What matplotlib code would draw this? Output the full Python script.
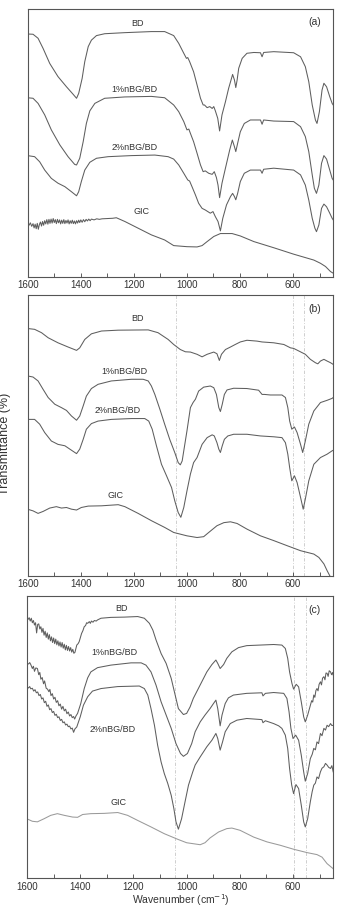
import numpy as np
import matplotlib
matplotlib.use("Agg")
import matplotlib.pyplot as plt

plt.rcParams['font.family'] = ['Liberation Sans', 'DejaVu Sans']

# ---------------- panel (a) ----------------
bd_a_wn = [1601, 1580, 1561, 1542, 1517, 1486, 1454, 1429, 1416, 1408, 1395, 1385, 1372, 1360, 1341, 1310,
           1234, 1134, 1084, 1050, 1031, 1012, 1002, 997, 990, 975, 962, 949, 939, 934, 924, 914, 905, 899,
           893, 884, 877, 868, 855, 843, 834, 828, 821, 816, 811, 805, 792, 774, 748, 723, 717, 711, 673,
           598, 572, 554, 541, 528, 516, 510, 501, 491, 484, 474, 462, 453, 449]
bd_a_t = [90.7, 90.6, 89.1, 85.3, 79.7, 74.8, 71.0, 68.2, 66.7, 68.5, 74.1, 80.4, 86.0, 88.4, 90.1, 90.8,
          91.2, 91.6, 91.6, 90.1, 87.2, 83.5, 81.6, 81.9, 80.4, 76.6, 71.7, 66.7, 64.2, 64.2, 63.2, 63.6, 62.9, 63.6,
          62.0, 59.2, 54.5, 60.5, 65.4, 70.4, 73.5, 75.6, 73.5, 70.7, 73.5, 77.9, 81.6, 83.5, 83.8, 83.7, 82.2, 83.8, 84.1,
          83.7, 82.2, 78.5, 72.9, 64.2, 58.6, 57.3, 61.7, 69.8, 72.3, 71.0, 67.3, 64.8, 64.2]

nbg1_a_wn = [1601, 1580, 1561, 1536, 1511, 1479, 1448, 1423, 1416, 1404, 1391, 1379, 1366, 1347, 1310, 1234,
             1134, 1084, 1050, 1031, 1012, 1000, 993, 987, 975, 962, 949, 939, 931, 918, 905, 897, 889, 883,
             877, 868, 855, 839, 829, 821, 816, 809, 799, 784, 761, 723, 717, 711, 673, 598, 572, 554, 541,
             528, 520, 512, 503, 493, 484, 474, 462, 453, 449]
nbg1_a_t = [66.9, 66.7, 64.8, 60.5, 54.9, 49.3, 44.9, 42.0, 41.8, 44.3, 50.5, 57.3, 62.0, 64.8, 66.7, 67.2,
            67.4, 66.9, 64.2, 61.7, 58.0, 54.9, 55.2, 53.6, 50.5, 46.2, 41.8, 39.3, 39.6, 38.7, 38.3, 39.3, 37.1, 34.3,
            29.6, 35.0, 40.6, 47.4, 51.1, 48.6, 46.8, 49.9, 54.2, 57.3, 58.6, 58.6, 57.0, 58.6, 58.2, 58.0, 56.1, 52.4, 46.8,
            38.1, 33.1, 31.2, 34.3, 42.4, 45.3, 44.0, 39.9, 36.8, 36.2]

nbg2_a_wn = [1601, 1574, 1555, 1536, 1511, 1486, 1460, 1435, 1416, 1408, 1398, 1385, 1366, 1341, 1297, 1209,
             1121, 1071, 1050, 1031, 1012, 997, 990, 981, 968, 956, 943, 931, 912, 902, 893, 883, 874, 865,
             851, 836, 828, 821, 816, 809, 799, 784, 761, 723, 717, 711, 673, 598, 572, 554, 541, 528, 518,
             512, 503, 493, 484, 474, 462, 453, 449]
nbg2_a_t = [45.3, 44.9, 43.0, 39.9, 36.8, 35.0, 33.7, 31.8, 30.3, 31.8, 35.6, 39.9, 42.8, 44.3, 44.9, 45.3,
            45.5, 44.9, 44.0, 41.8, 38.7, 36.2, 35.8, 33.7, 30.6, 27.5, 25.6, 25.0, 23.8, 24.4, 22.5, 20.7, 17.2, 21.9,
            26.9, 30.0, 31.2, 30.0, 28.8, 31.2, 35.6, 38.7, 39.9, 39.9, 38.7, 40.2, 40.6, 39.9, 38.1, 34.3, 28.7, 21.9, 18.2,
            16.9, 19.4, 25.6, 27.2, 26.2, 23.8, 21.9, 21.3]

gic_a_wn = [1600, 1595, 1590, 1585, 1580, 1576, 1572, 1568, 1564, 1560, 1556, 1552, 1548, 1544, 1540, 1536,
            1532, 1528, 1524, 1520, 1516, 1512, 1508, 1504, 1500, 1496, 1492, 1488, 1484, 1480, 1476, 1472,
            1468, 1464, 1460, 1456, 1452, 1448, 1444, 1440, 1436, 1432, 1428, 1424, 1420, 1416, 1412, 1408,
            1404, 1400, 1395, 1390, 1385, 1380, 1375, 1370, 1365, 1360, 1350, 1340, 1330, 1320, 1300, 1280,
            1266, 1234, 1184, 1134, 1084, 1050, 1000, 962, 943, 924, 899, 874, 830, 799, 748, 673, 598, 522,
            497, 478, 459, 449]
gic_a_t = [19.7, 19.3, 20.2, 18.9, 19.9, 18.3, 19.7, 18.0, 20.0, 17.8, 19.6, 20.5, 19.0, 20.7, 19.3, 21.0,
           19.8, 21.4, 19.7, 21.5, 20.0, 21.6, 20.1, 21.8, 20.3, 21.4, 19.9, 21.5, 20.2, 21.3, 19.8, 21.2,
           20.0, 21.4, 19.9, 21.1, 20.1, 21.3, 19.8, 21.0, 20.0, 21.2, 19.9, 20.9, 19.8, 21.0, 20.1, 21.2,
           20.3, 21.3, 20.4, 21.4, 20.6, 21.5, 20.9, 21.6, 21.0, 21.6, 21.3, 21.7, 21.5, 21.7, 21.8, 21.9,
           22.1, 20.7, 18.2, 15.7, 13.8, 11.7, 11.3, 11.2, 11.7, 13.2, 15.1, 16.2, 16.2, 15.3, 13.2, 10.9, 8.5, 6.3,
           5.1, 3.9, 2.0, 1.4]

# ---------------- panel (b) ----------------
bd_b_wn = [1601, 1574, 1548, 1523, 1486, 1448, 1416, 1404, 1385, 1360, 1322, 1259, 1146, 1109, 1071, 1050,
           1025, 1006, 987, 962, 943, 924, 899, 887, 878, 870, 855, 836, 818, 799, 774, 736, 717, 673, 635,
           610, 598, 579, 554, 535, 516, 507, 497, 484, 472, 459, 449]
bd_b_t = [88.1, 87.8, 86.6, 84.8, 83.0, 81.5, 80.3, 81.2, 84.2, 86.2, 87.2, 87.5, 87.6, 86.6, 84.2, 82.4,
          80.6, 79.8, 79.7, 78.9, 78.0, 78.9, 79.7, 79.1, 76.7, 78.9, 80.6, 81.5, 82.4, 83.3, 83.9, 83.6, 83.3, 83.0, 82.4,
          81.2, 81.0, 80.1, 78.9, 77.1, 75.9, 75.5, 76.5, 77.1, 76.5, 75.9, 75.3]

nbg1_b_wn = [1601, 1580, 1561, 1542, 1523, 1498, 1473, 1454, 1435, 1416, 1404, 1391, 1379, 1360, 1335, 1285,
             1209, 1165, 1146, 1134, 1121, 1102, 1084, 1065, 1046, 1033, 1025, 1018, 1012, 1000, 987, 977,
             968, 956, 937, 912, 899, 889, 880, 874, 867, 859, 849, 824, 774, 730, 717, 708, 686, 642, 629,
             620, 613, 605, 595, 585, 572, 564, 554, 541, 522, 497, 472, 453, 449]
nbg1_b_t = [71.2, 70.8, 69.4, 66.4, 63.5, 61.1, 59.9, 58.9, 56.9, 55.4, 56.9, 60.5, 64.0, 66.7, 68.2, 69.4,
            70.0, 70.0, 69.4, 67.6, 64.6, 59.3, 54.0, 48.6, 43.9, 40.3, 39.5, 40.9, 44.5, 51.6, 59.9, 61.7,
            62.9, 65.8, 67.2, 67.6, 67.0, 64.6, 59.9, 58.5, 61.1, 64.6, 66.2, 66.8, 66.7, 66.1, 64.6, 64.6, 64.4, 64.4, 63.5,
            59.9, 55.1, 52.2, 53.0, 51.0, 46.8, 43.9, 48.0, 54.0, 58.7, 61.7, 62.5, 63.2, 63.5]

nbg2_b_wn = [1601, 1574, 1555, 1536, 1511, 1486, 1460, 1435, 1416, 1404, 1391, 1379, 1360, 1335, 1285, 1209,
             1159, 1144, 1131, 1115, 1096, 1077, 1058, 1046, 1033, 1023, 1012, 1000, 987, 975, 962, 943,
             924, 905, 897, 887, 880, 874, 867, 859, 846, 824, 774, 723, 673, 642, 629, 620, 613, 605, 595,
             585, 572, 562, 554, 541, 522, 497, 472, 453, 449]
nbg2_b_t = [55.7, 55.7, 54.0, 51.0, 48.0, 46.8, 46.3, 44.7, 43.5, 45.1, 48.6, 52.2, 54.2, 55.1, 55.7, 56.0,
            56.0, 55.1, 52.2, 46.3, 39.7, 35.6, 31.4, 26.7, 22.5, 20.8, 24.3, 30.2, 36.2, 40.3, 42.1, 46.8,
            49.2, 50.2, 49.8, 47.4, 45.1, 43.9, 46.3, 48.6, 49.8, 50.4, 50.4, 49.8, 49.5, 49.2, 47.4, 43.3, 38.5, 33.8, 35.6,
            33.2, 27.9, 23.7, 27.3, 33.8, 39.7, 42.1, 43.3, 44.5, 44.7]

gic_b_wn = [1601, 1580, 1561, 1542, 1517, 1492, 1473, 1454, 1435, 1416, 1398, 1372, 1322, 1259, 1234, 1184,
            1134, 1084, 1050, 1000, 962, 937, 918, 887, 861, 836, 811, 774, 723, 673, 623, 572, 522, 503,
            484, 472, 462, 449]
gic_b_t = [23.7, 23.1, 22.2, 22.9, 24.1, 24.6, 24.1, 24.3, 23.7, 23.4, 24.3, 24.8, 24.9, 25.3, 24.6, 22.2,
           19.6, 17.2, 15.4, 14.2, 13.6, 13.9, 15.4, 17.8, 18.9, 19.2, 18.6, 16.6, 14.2, 12.5, 10.7, 8.9, 7.7, 6.5,
           4.2, 1.8, 0.0, -2.4]

# ---------------- panel (c) ----------------
bd_c_wn = [1601, 1596, 1592, 1588, 1584, 1580, 1576, 1572, 1568, 1564, 1560, 1556, 1552, 1548, 1544, 1540,
           1536, 1532, 1528, 1524, 1520, 1516, 1512, 1508, 1504, 1500, 1496, 1492, 1488, 1484, 1480, 1476,
           1472, 1468, 1464, 1460, 1456, 1452, 1448, 1444, 1440, 1436, 1432, 1428, 1424, 1420, 1416, 1413,
           1408, 1404, 1400, 1395, 1390, 1385, 1380, 1376, 1372, 1366, 1362, 1358, 1352, 1347, 1340, 1335,
           1322, 1285, 1234, 1184, 1159, 1140, 1127, 1115, 1096, 1077, 1058, 1040, 1031, 1012, 1000, 987,
           975, 962, 943, 924, 905, 890, 883, 874, 861, 849, 830, 805, 774, 723, 673, 642, 629, 620, 613,
           604, 598, 588, 579, 569, 560, 554, 545, 535, 530, 526, 522, 518, 514, 510, 506, 502, 497, 493,
           489, 484, 480, 476, 472, 468, 464, 459, 455, 451, 449]
bd_c_t = [92.0, 91.6, 92.2, 91.0, 92.0, 90.4, 91.2, 89.6, 90.4, 86.8, 89.8, 90.0, 88.2, 89.0, 87.0, 88.4,
          86.0, 87.4, 85.2, 86.8, 84.6, 86.2, 84.0, 85.4, 83.4, 85.0, 83.0, 84.6, 82.6, 84.0, 82.2, 83.6,
          81.8, 83.4, 81.4, 82.8, 80.8, 82.4, 80.6, 82.0, 80.4, 81.6, 80.0, 81.0, 79.6, 79.9, 81.4, 82.5,
          83.0, 83.7, 85.0, 86.6, 87.6, 89.0, 89.4, 90.4, 90.2, 90.8, 90.2, 91.0, 90.6, 91.2, 91.0, 91.4,
          92.0, 92.3, 92.4, 92.6, 92.0, 90.2, 87.8, 84.3, 79.5, 76.0, 70.7, 63.6, 60.0, 57.9, 58.3, 60.6,
          63.6, 66.0, 69.5, 73.0, 75.6, 77.2, 76.0, 74.2, 75.6, 77.8, 80.1, 81.6, 82.3, 82.5, 82.7, 82.5, 81.3, 77.8, 73.0,
          68.9, 66.9, 68.6, 67.7, 62.4, 57.1, 55.3, 57.7, 61.2, 62.8, 62.3, 64.8, 64.0, 66.4, 67.1, 66.3, 68.6, 69.5, 68.4,
          70.8, 71.3, 70.2, 72.6, 72.5, 71.4, 73.4, 73.0, 72.0, 72.8, 71.9]

nbg1_c_wn = [1601, 1594, 1590, 1586, 1580, 1576, 1572, 1567, 1561, 1556, 1552, 1548, 1543, 1538, 1534, 1528,
             1523, 1518, 1514, 1510, 1505, 1500, 1495, 1490, 1485, 1480, 1475, 1470, 1465, 1460, 1455, 1450,
             1445, 1440, 1435, 1430, 1425, 1421, 1416, 1410, 1398, 1385, 1372, 1360, 1335, 1285, 1209, 1171,
             1153, 1134, 1115, 1096, 1077, 1058, 1040, 1023, 1012, 997, 981, 968, 949, 931, 912, 899, 890,
             883, 874, 867, 855, 843, 824, 774, 717, 713, 704, 673, 635, 623, 615, 608, 600, 590, 579, 569,
             560, 554, 545, 535, 528, 522, 516, 510, 504, 497, 491, 484, 478, 472, 466, 459, 454, 449]
nbg1_c_t = [76.0, 75.8, 76.3, 75.6, 74.2, 75.0, 73.2, 74.4, 74.2, 72.0, 72.8, 70.4, 71.0, 68.8, 69.8, 67.2,
            66.9, 66.0, 66.8, 64.6, 65.3, 63.4, 64.0, 62.2, 62.8, 61.0, 61.6, 59.8, 60.8, 59.2, 59.8, 58.2,
            58.8, 57.4, 57.9, 56.8, 57.2, 56.3, 57.4, 58.3, 61.8, 67.1, 70.9, 73.0, 74.5, 75.4, 76.2, 76.2,
            75.4, 73.0, 68.3, 62.4, 57.7, 53.0, 47.6, 44.1, 43.1, 44.1, 47.6, 51.8, 55.3, 57.7, 60.0, 61.8, 63.0,
            60.0, 53.9, 57.7, 61.8, 63.8, 64.8, 65.4, 65.6, 64.5, 65.4, 65.7, 65.4, 63.6, 58.9, 53.0, 49.4, 50.6, 48.8, 43.5,
            37.6, 34.3, 37.0, 42.3, 43.8, 45.9, 45.4, 48.2, 47.6, 51.2, 50.4, 53.0, 52.4, 54.1, 53.6, 54.7, 54.0, 54.1]

nbg2_c_wn = [1601, 1595, 1590, 1586, 1580, 1575, 1570, 1565, 1560, 1555, 1550, 1545, 1540, 1535, 1530, 1525,
             1520, 1515, 1510, 1505, 1500, 1495, 1490, 1485, 1480, 1475, 1470, 1465, 1460, 1455, 1450, 1445,
             1440, 1435, 1430, 1425, 1420, 1413, 1400, 1388, 1372, 1354, 1322, 1259, 1178, 1159, 1146, 1134,
             1121, 1109, 1096, 1084, 1071, 1058, 1048, 1040, 1031, 1019, 1006, 993, 977, 968, 949, 924, 905,
             890, 883, 874, 865, 855, 836, 811, 774, 717, 713, 704, 673, 654, 642, 629, 620, 613, 605, 598,
             589, 579, 569, 560, 554, 545, 535, 528, 522, 516, 510, 504, 497, 491, 484, 478, 472, 466, 459,
             454, 449]
nbg2_c_t = [67.7, 67.3, 67.8, 67.0, 67.2, 66.2, 66.7, 65.6, 65.9, 64.6, 65.0, 63.4, 63.8, 62.1, 62.6, 60.8,
            61.3, 59.6, 60.0, 58.6, 59.0, 57.6, 58.0, 56.8, 57.1, 55.8, 56.2, 55.0, 55.3, 54.2, 54.5, 53.6,
            53.8, 52.8, 53.1, 51.6, 52.8, 53.5, 57.1, 61.2, 64.2, 66.2, 67.1, 67.8, 68.0, 67.1, 64.8, 60.0,
            54.1, 47.0, 41.1, 37.0, 33.5, 29.3, 24.6, 19.9, 17.3, 21.0, 27.0, 32.9, 37.6, 40.0, 42.9, 46.5, 48.8,
            51.2, 49.4, 45.3, 48.2, 51.8, 54.7, 55.9, 56.5, 56.1, 55.0, 55.7, 54.7, 53.9, 53.0, 50.6, 45.9, 38.8, 32.9, 29.9,
            33.1, 31.7, 25.8, 19.9, 18.1, 21.0, 27.0, 30.6, 32.9, 33.6, 35.8, 35.2, 37.6, 38.9, 39.4, 40.6, 40.0, 39.2, 38.8,
            39.8, 37.6]

gic_c_wn = [1601, 1580, 1561, 1536, 1511, 1486, 1460, 1429, 1410, 1391, 1360, 1310, 1259, 1222, 1184, 1134,
            1084, 1033, 1000, 949, 931, 912, 880, 849, 830, 799, 748, 698, 648, 598, 547, 510, 491, 472, 449]
gic_c_t = [21.0, 20.1, 19.9, 21.0, 22.2, 22.8, 22.2, 21.6, 21.5, 22.5, 22.8, 22.9, 23.2, 22.2, 20.4, 18.1,
           15.7, 13.7, 12.5, 11.8, 12.5, 14.2, 16.3, 17.5, 17.7, 16.9, 14.5, 12.8, 11.6, 10.2, 9.0, 8.3, 7.4, 5.1, 3.3]

names = ['BD', '1%nBG/BD', '2%nBG/BD', 'GIC']
panel_tags = ['(a)', '(b)', '(c)']

# label anchor points (wavenumber, transmittance) for the sample names
label_a = [(1185, 94.8), (1197, 70.1), (1197, 48.5), (1170, 24.6)]
label_b = [(1185, 91.5), (1234, 72.6), (1260, 58.7), (1268, 28.5)]
label_c = [(1245, 95.4), (1272, 79.8), (1278, 52.5), (1257, 26.6)]

# dashed reference bands in (b) and (c)
marks_b = [1042, 602, 560]
marks_c = [1042, 598, 553]

panels = [
    ([(bd_a_wn, bd_a_t), (nbg1_a_wn, nbg1_a_t), (nbg2_a_wn, nbg2_a_t), (gic_a_wn, gic_a_t)], label_a, []),
    ([(bd_b_wn, bd_b_t), (nbg1_b_wn, nbg1_b_t), (nbg2_b_wn, nbg2_b_t), (gic_b_wn, gic_b_t)], label_b, marks_b),
    ([(bd_c_wn, bd_c_t), (nbg1_c_wn, nbg1_c_t), (nbg2_c_wn, nbg2_c_t), (gic_c_wn, gic_c_t)], label_c, marks_c),
]

fig = plt.figure(figsize=(3.38, 9.08), dpi=100)
rects = [[0.082, 0.695, 0.903, 0.295],
         [0.082, 0.366, 0.903, 0.309],
         [0.080, 0.033, 0.905, 0.311]]

for k, (curves, labels, marks) in enumerate(panels):
    ax = fig.add_axes(rects[k])
    for m in marks:
        ax.axvline(m, color='#c8c8c8', lw=0.6, ls=(0, (4, 2, 1, 2)), zorder=1)
    for j, (wn, t) in enumerate(curves):
        col = '#9a9a9a' if (k == 2 and j == 3) else '#5e5e5e'
        ax.plot(wn, t, color=col, lw=0.75, zorder=2)
    for name, (lx, ly) in zip(names, labels):
        ax.text(lx, ly, name, fontsize=6.5, color='#333333', ha='center', va='center')
    ax.text(518, 95, panel_tags[k], fontsize=7.5, color='#333333', ha='center', va='center')
    ax.set_xlim(1600, 450)
    ax.set_ylim(0, 100)
    ax.set_yticks([])
    ax.set_xticks([1600, 1400, 1200, 1000, 800, 600])
    ax.set_xticks(np.arange(1500, 449, -100), minor=True)
    ax.tick_params(axis='x', which='both', direction='in', length=3, width=0.6,
                   color='#444444', labelsize=7, labelcolor='#333333', pad=2.5)
    for s in ax.spines.values():
        s.set_color('#555555')
        s.set_linewidth(0.8)

fig.text(0.016, 0.511, 'Transmittance (%)', rotation=90, fontsize=9,
         color='#333333', ha='center', va='center')
fig.text(0.535, 0.0, 'Wavenumber (cm$^{-1}$)', fontsize=7.5, color='#333333',
         ha='center', va='bottom')

fig.savefig('out.png', dpi=100)
